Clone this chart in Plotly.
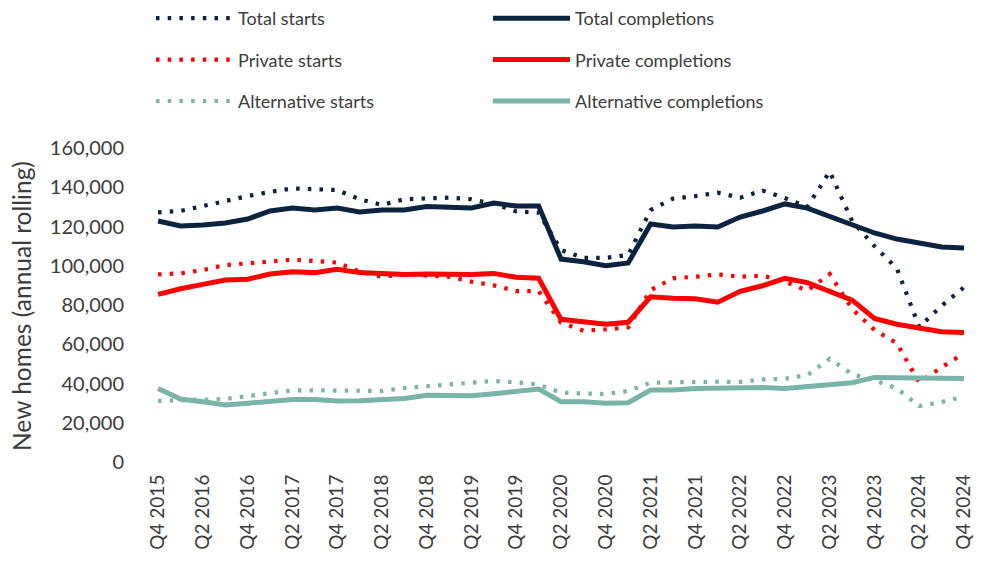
import plotly.graph_objects as go

tick_labels = ["Q4 2015", "Q2 2016", "Q4 2016", "Q2 2017", "Q4 2017", "Q2 2018",
               "Q4 2018", "Q2 2019", "Q4 2019", "Q2 2020", "Q4 2020", "Q2 2021",
               "Q4 2021", "Q2 2022", "Q4 2022", "Q2 2023", "Q4 2023", "Q2 2024",
               "Q4 2024"]

total_starts = [127200, 127900, 130400, 133000, 135500, 137600, 139400, 139000, 138600,
                133900, 131000, 133900, 134200, 134700, 133900, 131500, 127700, 127000,
                108000, 104000, 104000, 105500, 128400, 134200, 135500, 137200, 134700,
                138300, 134500, 130000, 148000, 122800, 110000, 98600, 68800, 79600, 89000]
total_completions = [122800, 120300, 120800, 121800, 123800, 127900, 129400, 128400, 129400,
                     127400, 128400, 128400, 130200, 130000, 129400, 132000, 130400, 130400,
                     103400, 102000, 100000, 101400, 121300, 119700, 120300, 119700, 124800,
                     127900, 131500, 129400, 125300, 121300, 116700, 113600, 111600, 109600, 109000]
private_starts = [95600, 96100, 97800, 100400, 101200, 102400, 103100, 102400, 101600,
                  97000, 94400, 95600, 95000, 94400, 91900, 90000, 87100, 87000,
                  71000, 66900, 67600, 68600, 87600, 93600, 94400, 95600, 94400,
                  95000, 91900, 87300, 95800, 78000, 67300, 60500, 40400, 48300, 55400]
private_completions = [85400, 88300, 90500, 92700, 93100, 95800, 97000, 96500, 98200,
                       96500, 96100, 95600, 95800, 95600, 95600, 96100, 94100, 93600,
                       72700, 71500, 70200, 71200, 84200, 83400, 83200, 81400, 87000,
                       89800, 93600, 91400, 87100, 82500, 73200, 70200, 68300, 66400, 66000]
alternative_starts = [31100, 31400, 31600, 32100, 33600, 35300, 36500, 36500, 36500,
                      36200, 36200, 37700, 38600, 39700, 40600, 41300, 40600, 39400,
                      35300, 35000, 34600, 36200, 40400, 40600, 40900, 40900, 40800,
                      42100, 42400, 44300, 52600, 44800, 41600, 37500, 28500, 30600, 33300]
alternative_completions = [37500, 32100, 30700, 29000, 29900, 31100, 31900, 31900, 31100,
                           31200, 31900, 32400, 34000, 33800, 33800, 34800, 35800, 37200,
                           30700, 30700, 29900, 30200, 36700, 36700, 37500, 37700, 37900,
                           37900, 37500, 38400, 39700, 40400, 43100, 43100, 43100, 43100, 42600]

y_title = "New homes (annual rolling)"

NAVY = "#0C2340"
RED = "#FF0000"
TEAL = "#7AB3A8"
TEXT = "#3C3C3C"
FONT = "Lato"

x = list(range(len(total_starts)))
tickvals = list(range(0, len(total_starts), 2))

fig = go.Figure()
DOT = "3.5px,8.2px"

series = [
    ("Total starts", total_starts, NAVY, "dot", "legend", "g1"),
    ("Private starts", private_starts, RED, "dot", "legend", "g2"),
    ("Alternative starts", alternative_starts, TEAL, "dot", "legend", "g3"),
    ("Total completions", total_completions, NAVY, "solid", "legend2", "g4"),
    ("Private completions", private_completions, RED, "solid", "legend2", "g5"),
    ("Alternative completions", alternative_completions, TEAL, "solid", "legend2", "g6"),
]
for name, vals, col, style, leg, grp in series:
    fig.add_trace(go.Scatter(
        x=x, y=vals, name=name, mode="lines",
        line=dict(color=col, width=4.2 if style == "dot" else 5,
                  dash=DOT if style == "dot" else "solid"),
        legend=leg, legendgroup=grp,
    ))

legend_common = dict(
    font=dict(family=FONT, size=18, color=TEXT),
    bgcolor="rgba(0,0,0,0)", orientation="v",
    xref="container", yref="container", xanchor="left", yanchor="middle",
    tracegroupgap=15, itemwidth=77,
)
fig.update_layout(
    width=995, height=564,
    margin=dict(l=127, r=28, t=140, b=110, autoexpand=False),
    paper_bgcolor="white", plot_bgcolor="white",
    font=dict(family=FONT, color=TEXT),
    legend=dict(x=143 / 995, y=1 - 52 / 564, **legend_common),
    legend2=dict(x=480 / 995, y=1 - 52 / 564, **legend_common),
    xaxis=dict(
        range=[-1.03, 36.49], tickmode="array", tickvals=tickvals, ticktext=tick_labels,
        tickangle=-90, showgrid=False, zeroline=False, showline=False,
        tickfont=dict(family=FONT, size=19, color=TEXT),
        ticks="outside", ticklen=4, tickcolor="rgba(0,0,0,0)",
    ),
    yaxis=dict(
        range=[0, 160000], tickvals=[0, 20000, 40000, 60000, 80000, 100000, 120000, 140000, 160000],
        tickformat=",d", showgrid=False, zeroline=False, showline=False,
        tickfont=dict(family=FONT, size=20, color=TEXT),
        ticks="outside", ticklen=6, tickcolor="rgba(0,0,0,0)",
    ),
    annotations=[dict(
        text=y_title, textangle=-90, showarrow=False,
        xref="paper", yref="paper", x=-0.1345, y=0.497,
        xanchor="center", yanchor="middle",
        font=dict(family=FONT, size=24.5, color=TEXT),
    )],
    showlegend=True,
)
fig.write_html("out.html")
